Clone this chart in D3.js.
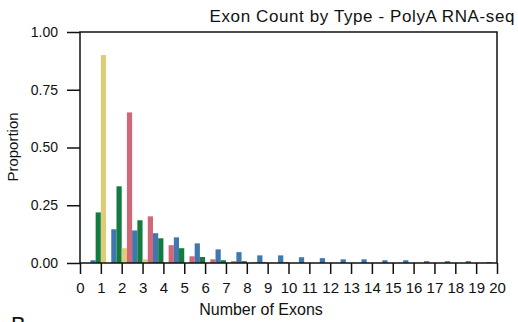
<!DOCTYPE html>
<html>
<head>
<meta charset="utf-8">
<script src="https://cdn.jsdelivr.net/npm/d3@7"></script>
<style>
  body { margin: 0; background: #fff; }
  svg { display: block; font-family: "Liberation Sans", Helvetica, Arial, sans-serif; }
  .chart__axis text { font-size: 14px; fill: #111; }
  .chart__axis--x text { font-size: 15px; }
  .chart__axis path, .chart__axis line { stroke: #111; stroke-width: 1.5px; }
  .chart__box { fill: none; stroke: #111; stroke-width: 1.5px; }
</style>
</head>
<body>
<svg id="chart" width="518" height="322"></svg>
<script>
// exon counts 1..20
var exons = d3.range(1, 21)
var seriesNames = ["blue", "green", "yellow", "pink"]
var seriesColors = ["#4077ae", "#127b3f", "#dfcc78", "#d16879"]

var blueVals   = [0.012, 0.146, 0.141, 0.129, 0.111, 0.085, 0.059, 0.047, 0.033, 0.033,
                  0.025, 0.021, 0.016, 0.016, 0.012, 0.012, 0.008, 0.008, 0.008, 0.004]
var greenVals  = [0.219, 0.332, 0.185, 0.107, 0.064, 0.026, 0.012, 0.008, 0.003, 0.003,
                  0, 0, 0, 0, 0, 0, 0, 0, 0, 0]
var yellowVals = [0.900, 0.064, 0.016, 0.003, 0, 0, 0, 0, 0, 0,
                  0, 0, 0, 0, 0, 0, 0, 0, 0, 0]
var pinkVals   = [0, 0.652, 0.202, 0.077, 0.029, 0.016, 0.008, 0.002, 0, 0,
                  0, 0, 0, 0, 0, 0, 0, 0, 0, 0]

var yTicks = [0, 0.25, 0.5, 0.75, 1]
var xTicks = d3.range(0, 21)

var margin = { top: 32, right: 21, bottom: 59, left: 80 }
var svg = d3.select("#chart")
var width = 518 - margin.left - margin.right
var height = 322 - margin.top - margin.bottom

var allVals = [blueVals, greenVals, yellowVals, pinkVals]
var rows = []
exons.forEach(function (n, i) {
  seriesNames.forEach(function (s, j) {
    rows.push({ n: n, series: s, idx: j, y: allVals[j][i] })
  })
})

var x = d3.scaleLinear().domain([0, 20]).range([0, width])
var y = d3.scaleLinear().domain([0, 1]).range([height, 0])
var inner = d3.scaleBand().domain(seriesNames).range([x(-0.5) - x(0), x(0.5) - x(0)])

var g = svg.append("g").attr("transform", "translate(" + margin.left + "," + margin.top + ")")

// bars
g.append("g").selectAll("rect")
  .data(rows.filter(function (d) { return d.y > 0 }))
  .enter().append("rect")
  .attr("x", function (d) { return x(d.n) + inner(d.series) })
  .attr("width", inner.bandwidth())
  .attr("y", function (d) { return y(d.y) })
  .attr("height", function (d) { return y(0) - y(d.y) })
  .attr("fill", function (d) { return seriesColors[d.idx] })

// frame
g.append("rect").attr("class", "chart__box")
  .attr("x", 0).attr("y", 0).attr("width", width).attr("height", height)

var yAxis = d3.axisLeft(y).tickValues(yTicks).tickSize(13).tickPadding(9).tickFormat(d3.format(".2f"))
g.append("g").attr("class", "chart__axis chart__axis--y").call(yAxis)
  .call(function (a) { a.select(".domain").remove() })

var xAxis = d3.axisBottom(x).tickValues(xTicks).tickSize(11).tickPadding(8).tickFormat(d3.format("d"))
g.append("g").attr("class", "chart__axis chart__axis--x")
  .attr("transform", "translate(0," + height + ")")
  .call(xAxis)
  .call(function (a) { a.select(".domain").remove() })

// labels
svg.append("text")
  .attr("x", 515).attr("y", 22)
  .attr("text-anchor", "end")
  .style("font-size", "17px").style("letter-spacing", "0.6px").attr("fill", "#111")
  .text("Exon Count by Type - PolyA RNA-seq")

svg.append("text")
  .attr("x", 261).attr("y", 315)
  .attr("text-anchor", "middle")
  .style("font-size", "16px").attr("fill", "#111")
  .text("Number of Exons")

svg.append("text")
  .attr("transform", "translate(18,147) rotate(-90)")
  .attr("text-anchor", "middle")
  .style("font-size", "15px").attr("fill", "#111")
  .text("Proportion")

// next panel letter, cut off at the bottom
svg.append("text")
  .attr("x", 11).attr("y", 332)
  .style("font-size", "22px").attr("fill", "#111")
  .text("B")
</script>
</body>
</html>
